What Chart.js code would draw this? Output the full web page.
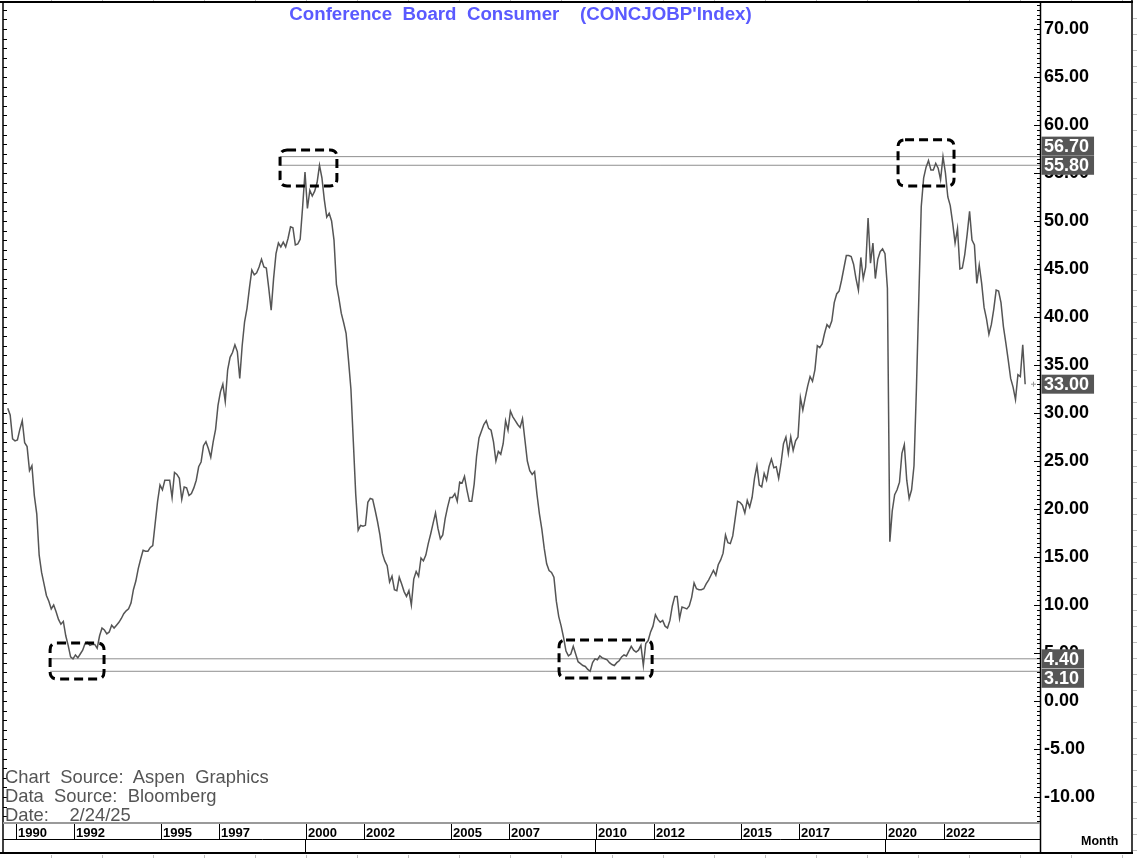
<!DOCTYPE html>
<html>
<head>
<meta charset="utf-8">
<title>Conference Board Consumer (CONCJOBP'Index)</title>
<script src="https://cdn.jsdelivr.net/npm/chart.js@4.4.1/dist/chart.umd.min.js"></script>
<style>
  html, body { margin: 0; padding: 0; background: #fff; }
  #wrap { position: relative; width: 1137px; height: 858px; overflow: hidden; }
  #wrap canvas { position: absolute; left: 0; top: 0; }
  .title {
    position: absolute; left: 0; top: 5px; width: 1041px; text-align: center;
    font: bold 18.7px "Liberation Sans", Arial, sans-serif; line-height: 18.7px;
    color: #5a5aff; white-space: pre;
  }
  .source {
    position: absolute; left: 5px; top: 767px;
    font: 18.4px "Liberation Sans", Arial, sans-serif; line-height: 19px;
    color: #555; white-space: pre;
  }
  .month {
    position: absolute; left: 1081px; top: 835px;
    font: bold 12.5px "Liberation Sans", Arial, sans-serif; line-height: 12.5px;
    color: #000;
  }
</style>
</head>
<body>
<div id="wrap">
  <canvas id="chart" width="1137" height="858"></canvas>
  <div class="title">Conference  Board  Consumer    (CONCJOBP'Index)</div>
  <div class="source">Chart  Source:  Aspen  Graphics
Data  Source:  Bloomberg
Date:    2/24/25</div>
  <div class="month">Month</div>
</div>
<script>
// monthly series, first value is Oct 1989
const startYear = 1989;
const startMonth = 10;
const jobsPlentiful = [
  30.5, 29.8, 27.3,                                                   // 1989
  27.1, 27.2, 28.3, 29.2, 26.9, 26.5, 24.0, 24.5, 21.4, 19.5, 15.2, 13.4, // 1990
  12.2, 11.0, 10.4, 9.6, 10.0, 9.3, 8.5, 8.0, 8.3, 6.8, 5.8, 4.6,     // 1991
  4.4, 4.8, 4.5, 4.9, 5.3, 6.0, 6.1, 5.8, 5.9, 5.9, 5.5, 6.8,         // 1992
  7.6, 7.4, 7.0, 7.2, 7.9, 7.6, 7.9, 8.2, 8.6, 9.1, 9.4, 9.6,         // 1993
  10.2, 11.6, 12.5, 13.8, 14.8, 15.7, 15.6, 15.6, 16.0, 16.2, 18.5, 20.8, // 1994
  22.5, 22.0, 23.0, 23.0, 23.0, 21.2, 23.8, 23.6, 23.2, 21.0, 22.3, 22.2, // 1995
  21.4, 21.6, 22.2, 23.0, 24.4, 24.9, 26.6, 27.0, 26.3, 25.4, 27.0, 28.3, // 1996
  30.8, 32.2, 33.0, 31.2, 34.5, 35.8, 36.3, 37.1, 36.4, 33.6, 37.0, 39.5, // 1997
  40.9, 43.0, 44.9, 44.4, 44.6, 45.2, 46.0, 45.2, 45.1, 43.0, 40.7, 44.0, // 1998
  46.6, 47.7, 47.3, 47.8, 47.3, 48.2, 49.4, 49.3, 47.5, 47.6, 48.1, 51.4, // 1999
  55.1, 51.3, 53.2, 52.6, 53.1, 54.0, 55.8, 54.5, 52.2, 50.4, 50.8, 50.0, // 2000
  48.0, 43.4, 42.0, 40.4, 39.4, 38.3, 35.5, 32.5, 27.0, 21.5, 17.8, 18.3, // 2001
  18.2, 18.3, 20.7, 21.1, 21.0, 19.9, 18.7, 17.3, 15.4, 14.6, 14.1, 12.4, // 2002
  13.0, 11.6, 11.5, 12.9, 12.2, 11.4, 10.9, 11.5, 10.0, 12.7, 13.5, 13.0, // 2003
  14.9, 14.6, 15.2, 16.4, 17.4, 18.5, 19.6, 18.0, 16.9, 17.3, 19.0, 20.2, // 2004
  21.2, 21.2, 21.6, 20.8, 22.8, 22.7, 23.4, 22.0, 20.8, 20.8, 22.6, 25.5, // 2005
  27.4, 28.1, 28.8, 29.2, 28.4, 28.2, 27.0, 25.0, 26.0, 25.7, 26.8, 29.2, // 2006
  28.2, 30.2, 29.6, 29.2, 28.8, 28.5, 29.4, 27.2, 25.0, 24.0, 23.6, 23.9, // 2007
  21.5, 19.5, 17.9, 15.9, 14.3, 13.6, 13.4, 12.9, 10.4, 8.8, 7.8, 6.6,    // 2008
  5.2, 4.7, 4.9, 5.7, 4.9, 4.1, 3.9, 3.7, 3.6, 3.3, 3.1, 4.0,         // 2009
  4.4, 4.3, 4.7, 4.5, 4.4, 4.3, 4.0, 3.8, 3.7, 4.0, 4.2, 4.6,         // 2010
  4.8, 4.7, 5.2, 5.7, 5.3, 5.1, 5.3, 5.8, 3.7, 6.0, 6.3, 7.2,         // 2011
  7.8, 9.0, 8.5, 8.2, 8.4, 7.8, 7.6, 8.4, 9.9, 10.9, 10.9, 8.6,       // 2012
  9.8, 9.7, 9.6, 9.9, 10.8, 12.3, 11.7, 11.6, 11.6, 11.7, 12.2, 12.6, // 2013
  13.1, 13.6, 13.1, 14.2, 14.7, 15.4, 17.3, 16.5, 16.4, 17.2, 19.0, 20.8, // 2014
  20.7, 20.4, 19.6, 20.9, 20.2, 21.2, 23.2, 24.5, 22.5, 22.3, 23.7, 23.0, // 2015
  24.4, 25.2, 24.3, 24.4, 23.2, 24.8, 26.8, 27.5, 25.8, 27.5, 26.1, 27.1, // 2016
  27.5, 31.6, 30.3, 31.6, 32.8, 33.8, 33.3, 34.5, 37.0, 36.8, 37.2, 38.3, // 2017
  39.2, 38.9, 39.6, 41.5, 42.4, 42.7, 43.8, 45.1, 46.4, 46.4, 46.3, 45.5, // 2018
  44.0, 42.8, 46.2, 44.0, 45.2, 50.3, 45.6, 47.7, 44.0, 46.0, 46.8, 47.1, // 2019
  46.6, 43.0, 16.6, 19.8, 21.5, 22.0, 22.8, 25.8, 26.7, 23.0, 21.1, 22.0, // 2020
  24.5, 32.5, 42.0, 51.5, 54.5, 55.6, 56.3, 55.3, 55.3, 56.0, 55.5, 54.3, // 2021
  56.7, 55.0, 52.5, 51.6, 49.8, 47.7, 49.2, 45.0, 45.1, 46.5, 48.6, 51.0, // 2022
  48.0, 47.5, 43.5, 45.4, 43.5, 41.0, 39.8, 38.2, 39.2, 40.8, 42.8, 42.7, // 2023
  41.5, 39.0, 37.3, 35.5, 33.6, 32.7, 31.4, 34.0, 33.8, 37.1, 33.0        // 2024
];

const yearTicks = [1990, 1992, 1995, 1997, 2000, 2002, 2005, 2007, 2010, 2012, 2015, 2017, 2020, 2022];
const decadeMarks = [2000, 2010, 2020];
const valueTicks = [-10, -5, 0, 5, 10, 15, 20, 25, 30, 35, 40, 45, 50, 55, 60, 65, 70];

// highs / lows marked with horizontal lines and tagged on the axis
const refLevels = [56.7, 55.8, 4.4, 3.1];
const refStartYears = [1999.14, 1999.14, 1991.21, 1991.21];
const lastValue = jobsPlentiful[jobsPlentiful.length - 1];

// dashed boxes: [from year, to year, top value, bottom value]
const boxes = [
  [1999.14, 2001.10, 57.4, 53.65],
  [2020.45, 2022.38, 58.45, 53.65],
  [1991.21, 1993.07, 6.05, 2.3],
  [2008.76, 2011.97, 6.35, 2.4]
];

const X_MIN = 1989.655, X_MAX = 2025.345;
const FONT = '"Liberation Sans", Arial, sans-serif';

const points = jobsPlentiful.map((v, i) => ({ x: startYear + (startMonth - 1 + i) / 12, y: v }));

const refSets = refLevels.map((lvl, i) => ({
  data: [{ x: refStartYears[i], y: lvl }, { x: X_MAX, y: lvl }],
  borderColor: '#8f8f8f', borderWidth: 1, pointRadius: 0
}));

function line(ctx, x1, y1, x2, y2) {
  ctx.beginPath(); ctx.moveTo(x1, y1); ctx.lineTo(x2, y2); ctx.stroke();
}

function roundBox(ctx, x0, y0, x1, y1, r) {
  ctx.beginPath();
  ctx.moveTo(x0 + r, y0);
  ctx.lineTo(x1 - r, y0); ctx.quadraticCurveTo(x1, y0, x1, y0 + r);
  ctx.lineTo(x1, y1 - r); ctx.quadraticCurveTo(x1, y1, x1 - r, y1);
  ctx.lineTo(x0 + r, y1); ctx.quadraticCurveTo(x0, y1, x0, y1 - r);
  ctx.lineTo(x0, y0 + r); ctx.quadraticCurveTo(x0, y0, x0 + r, y0);
  ctx.closePath();
  ctx.stroke();
}

const dashedBoxes = {
  id: 'dashedBoxes',
  afterDatasetsDraw(chart) {
    const { ctx, scales: { x, y } } = chart;
    ctx.save();
    ctx.strokeStyle = '#000';
    ctx.lineWidth = 3;
    ctx.setLineDash([9, 5]);
    boxes.forEach(b => {
      roundBox(ctx, x.getPixelForValue(b[0]), y.getPixelForValue(b[2]),
        x.getPixelForValue(b[1]), y.getPixelForValue(b[3]), 7);
    });
    ctx.restore();
  }
};

const frame = {
  id: 'frame',
  afterDraw(chart) {
    const { ctx, chartArea: a, scales: { x, y } } = chart;
    ctx.save();

    // faint ruler marks round the outside
    ctx.strokeStyle = '#bdbdbd'; ctx.lineWidth = 1;
    for (let px = 51.5; px < 1133; px += 51) { line(ctx, px, 0, px, 2); line(ctx, px, 855, px, 858); }
    for (let py = 18.5; py < 853; py += 16) line(ctx, 1133, py, 1137, py);

    // outer borders
    ctx.strokeStyle = '#000';
    ctx.lineWidth = 2;
    line(ctx, 0, 2, 1133, 2);
    line(ctx, 0, 853, 1133, 853);
    ctx.lineWidth = 1.5;
    line(ctx, 3, 2, 3, 853);
    line(ctx, 1132, 0, 1132, 853);
    line(ctx, a.right + 0.5, 2, a.right + 0.5, 853);

    // left edge ticks, every unit
    ctx.lineWidth = 1;
    for (let v = -12; v <= 72; v++) {
      const py = Math.round(y.getPixelForValue(v)) + 0.5;
      line(ctx, 3, py, 7, py);
    }
    // axis ticks, every half unit
    for (let v = -12.5; v <= 72.5; v += 0.5) {
      const py = Math.round(y.getPixelForValue(v)) + 0.5;
      const len = (v % 5 === 0) ? 6 : 3;
      line(ctx, a.right - len, py, a.right, py);
    }

    // date strip
    ctx.strokeStyle = '#9a9a9a'; ctx.lineWidth = 2;
    line(ctx, 3, a.bottom, a.right, a.bottom);
    ctx.strokeStyle = '#000'; ctx.lineWidth = 1;
    line(ctx, 3, 839.5, a.right, 839.5);
    yearTicks.forEach(t => {
      const px = Math.round(x.getPixelForValue(t)) + 1.5;
      line(ctx, px, a.bottom + 1, px, 839.5);
    });
    decadeMarks.forEach(t => {
      const px = Math.round(x.getPixelForValue(t)) + 0.5;
      line(ctx, px, 839.5, px, 853);
    });

    // last value marker
    const ly = y.getPixelForValue(lastValue);
    ctx.strokeStyle = '#999';
    line(ctx, a.right - 9, ly, a.right - 4, ly);
    line(ctx, a.right - 6.5, ly - 2.5, a.right - 6.5, ly + 2.5);

    // value tags on the axis
    const tags = [
      { v: refLevels[0], dy: -10.5 },
      { v: refLevels[1], dy: 0 },
      { v: refLevels[2], dy: 0 },
      { v: refLevels[3], dy: 7 },
      { v: lastValue, dy: 0 }
    ];
    ctx.font = 'bold 18px ' + FONT;
    ctx.textBaseline = 'middle';
    ctx.textAlign = 'left';
    tags.forEach(t => {
      const txt = t.v.toFixed(2);
      const cy = y.getPixelForValue(t.v) + t.dy;
      const w = ctx.measureText(txt).width;
      ctx.fillStyle = '#565656';
      ctx.fillRect(a.right + 1.5, cy - 9.5, w + 7.5, 19);
      ctx.fillStyle = '#fff';
      ctx.fillText(txt, a.right + 4, cy + 1);
    });
    ctx.restore();
  }
};

new Chart(document.getElementById('chart'), {
  type: 'line',
  data: {
    datasets: [
      { data: points, borderColor: '#555', borderWidth: 1.5, pointRadius: 0, tension: 0 },
      ...refSets
    ]
  },
  options: {
    responsive: false,
    animation: false,
    devicePixelRatio: 1,
    layout: { padding: { left: 5, top: 3, right: 0, bottom: 0 } },
    plugins: { legend: { display: false }, tooltip: { enabled: false }, title: { display: false } },
    scales: {
      x: {
        type: 'linear', min: X_MIN, max: X_MAX,
        grid: { display: false, drawTicks: false },
        border: { display: false },
        afterBuildTicks: s => { s.ticks = yearTicks.map(v => ({ value: v })); },
        afterFit: s => { s.height = 35; s.paddingLeft = 0; s.paddingRight = 0; },
        ticks: {
          autoSkip: false, maxRotation: 0, minRotation: 0, align: 'start', labelOffset: 3, padding: 3,
          color: '#000', font: { family: FONT, size: 13, weight: 'bold' },
          callback: v => String(v)
        }
      },
      y: {
        type: 'linear', position: 'right', min: -12.7, max: 72.7,
        grid: { display: false, drawTicks: false },
        border: { display: false },
        afterBuildTicks: s => { s.ticks = valueTicks.map(v => ({ value: v })); },
        afterFit: s => { s.width = 97; s.paddingTop = 0; s.paddingBottom = 0; },
        ticks: {
          padding: 4, color: '#000', font: { family: FONT, size: 18, weight: 'bold' },
          callback: v => v.toFixed(2)
        }
      }
    }
  },
  plugins: [dashedBoxes, frame]
});
</script>
</body>
</html>
